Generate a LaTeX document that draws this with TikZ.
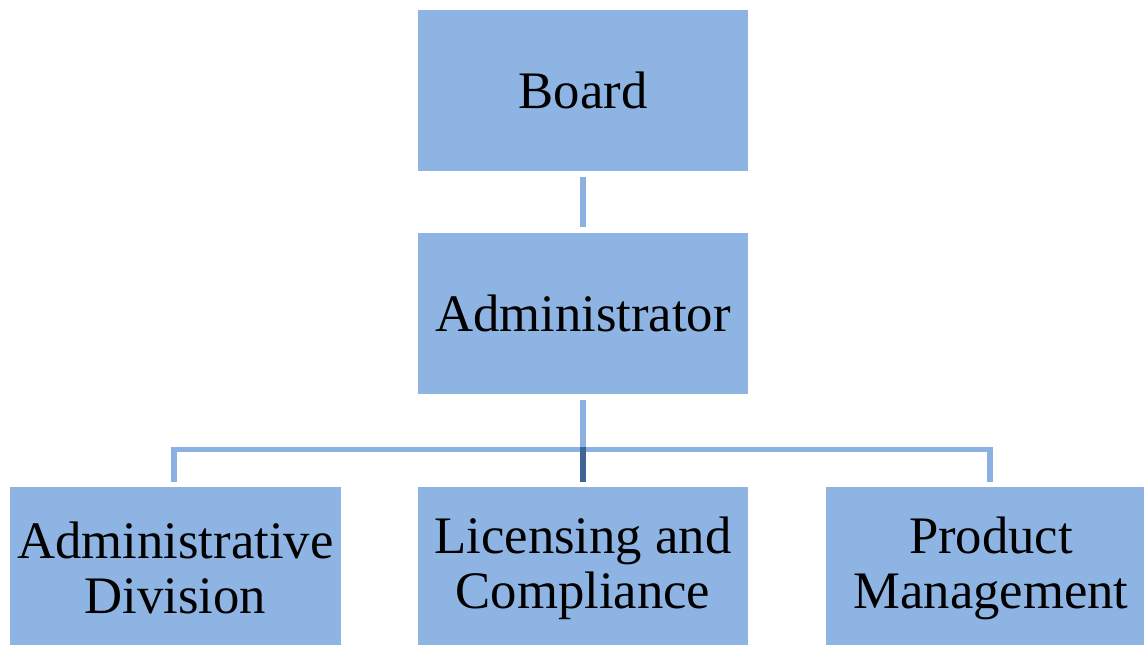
\documentclass[tikz,border=0pt]{standalone}
\usepackage{fontspec}
\setmainfont{Liberation Serif}
\definecolor{boxblue}{HTML}{8EB4E3}
\definecolor{lineblue}{HTML}{8AB1E1}
\definecolor{linedark}{HTML}{3D6696}
\begin{document}
\begin{tikzpicture}[x=0.02cm,y=-0.02cm,
  orgbox/.style={fill=boxblue, draw=none, inner sep=0pt, align=center,
    minimum width=6.6cm, minimum height=3.22cm,
    font=\fontsize{30}{31.3}\selectfont},
  lowbox/.style={orgbox, minimum height=3.16cm},
  conn/.style={draw=lineblue, line width=0.11cm, line join=miter},
  connhub/.style={draw=linedark, line width=0.11cm}]
  \clip (0,0) rectangle (1144,645);
  % boxes
  \node[orgbox] (board) at (583,90.5) {Board};
  \node[orgbox] (admin) at (583,313.5) {Administrator};
  \node[lowbox, minimum width=6.62cm] (divn) at (175.5,566) {\rule{0pt}{0.82cm}Administrative\\Division};
  \node[lowbox] (lic) at (583,566) {\rule{0pt}{0.82cm}Licensing and\\Compliance};
  \node[lowbox] (prod) at (991,566) {\rule{0pt}{0.82cm}Product\\Management};
  % connectors
  \coordinate (hub) at (583,449.5);
  \draw[conn] ([yshift=-0.12cm]board.south) -- ([yshift=0.12cm]admin.north);
  \draw[conn] ([yshift=-0.12cm]admin.south) -- (hub);
  \draw[conn] ([xshift=-0.03cm,yshift=0.1cm]divn.north) |- (hub) -| ([xshift=-0.02cm,yshift=0.1cm]prod.north);
  \draw[connhub] ([yshift=0.05cm]hub) -- ([yshift=0.1cm]lic.north);
\end{tikzpicture}
\end{document}
